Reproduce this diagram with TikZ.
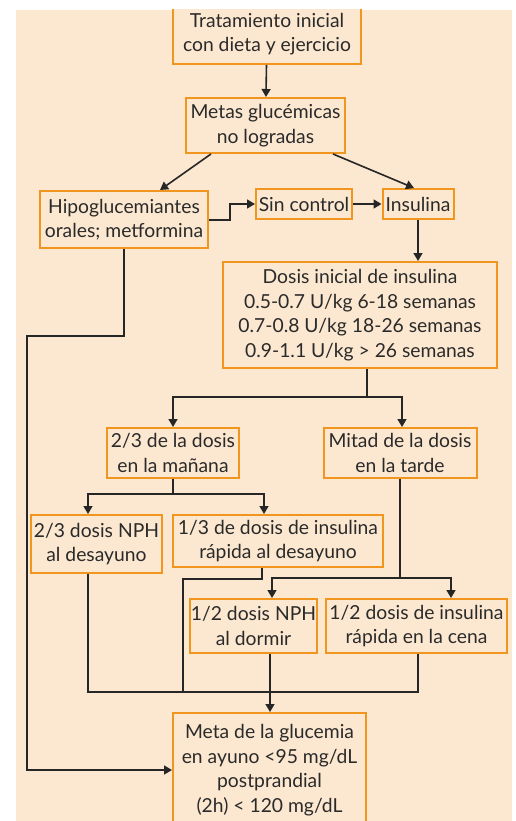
\documentclass[tikz,border=0pt]{standalone}
\usepackage{fontspec}
\setmainfont{Lato}
\usepackage{tikz}
\usetikzlibrary{arrows.meta}

\definecolor{fondo}{HTML}{FCE8D0}
\definecolor{naranja}{HTML}{F0961E}
\definecolor{texto}{HTML}{2A2A2A}

\tikzset{
  caja/.style={draw=naranja, line width=2pt, fill=fondo, align=center, inner sep=0pt,
    text=texto, font=\fontsize{19.3}{24.5}\selectfont},
  linea/.style={line width=1.6pt, draw=black!85},
  flecha/.style={linea, -{Triangle[length=8pt,width=9pt]}}
}

\begin{document}
\begin{tikzpicture}[x=1pt,y=-1pt]
        \useasboundingbox (0,0) rectangle (515,821);
        \clip (16,10) rectangle (512,821);
        \fill[fondo] (16,10) rectangle (512,821);
        % cajas
        \node[caja, minimum width=188pt, minimum height=60pt] (trat) at (267,34) {Tratamiento inicial\\con dieta y ejercicio};
        \node[caja, minimum width=159pt, minimum height=55pt] (metas) at (265.5,125.5) {Metas glucémicas\\no logradas};
        \node[caja, minimum width=168pt, minimum height=57pt] (hipo) at (124,219.5) {Hipoglucemiantes\\orales; metformina};
        \node[caja, minimum width=96pt, minimum height=30pt] (sin) at (304,204) {Sin control};
        \node[caja, minimum width=71pt, minimum height=30pt] (insul) at (418,204) {Insulina};
        \node[caja, minimum width=274pt, minimum height=106pt] (dosis) at (360,315) {Dosis inicial de insulina\\0.5-0.7 U/kg 6-18 semanas\\0.7-0.8 U/kg 18-26 semanas\\0.9-1.1 U/kg > 26 semanas};
        \node[caja, minimum width=132pt, minimum height=50pt] (manana) at (173,453) {2/3 de la dosis\\en la mañana};
        \node[caja, minimum width=153pt, minimum height=50pt] (tarde) at (400,453) {Mitad de la dosis\\en la tarde};
        \node[caja, minimum width=131pt, minimum height=58pt] (nphdes) at (96.5,544) {2/3 dosis NPH\\al desayuno};
        \node[caja, minimum width=210pt, minimum height=52pt] (rapdes) at (278,541) {1/3 de dosis de insulina\\rápida al desayuno};
        \node[caja, minimum width=127pt, minimum height=54pt] (nphdor) at (253.5,626) {1/2 dosis NPH\\al dormir};
        \node[caja, minimum width=181pt, minimum height=54pt] (rapcena) at (416.5,626) {1/2 dosis de insulina\\rápida en la cena};
        \node[caja, minimum width=193pt, minimum height=114pt] (meta) at (269.5,770) {Meta de la glucemia\\en ayuno <95 mg/dL\\postprandial\\(2h) < 120 mg/dL};
        % puntos de union
        \coordinate (izq) at (27,336);
        \coordinate (r1) at (367,397);
        \coordinate (r2) at (173,494);
        \coordinate (r3) at (400,578);
        \coordinate (col) at (270,692);
        % conectores
        \draw[flecha] (trat) -- (metas);
        \draw[flecha] ([xshift=-54.5pt]metas.south) -- ([xshift=36pt]hipo.north);
        \draw[flecha] ([xshift=67.5pt]metas.south) -- ([xshift=-4pt]insul.north);
        \draw[flecha] ([yshift=-0.5pt]hipo.east) -- ++(21,0) |- (sin.west);
        \draw[flecha] (sin) -- (insul);
        \draw[flecha] (insul) -- (dosis.north -| insul);
        \draw[flecha] (hipo.south) |- (izq) |- (meta.west);
        \draw[linea] (dosis.south -| r1) -- (r1);
        \draw[flecha] (r1) -| (manana);
        \draw[flecha] (r1) -| ([xshift=2pt]tarde.north);
        \draw[linea] (manana) -- (r2);
        \draw[flecha] (r2) -| ([xshift=-8.5pt]nphdes.north);
        \draw[flecha] (r2) -| ([xshift=-14pt]rapdes.north);
        \draw[linea] (tarde) -- (r3);
        \draw[flecha] (r3) -| ([xshift=18.5pt]nphdor.north);
        \draw[flecha] (r3) -| ([xshift=34.5pt]rapcena.north);
        \draw[linea] ([xshift=-8.5pt]nphdes.south) |- (col) -| ([xshift=1.5pt]rapcena.south);
        \draw[linea] ([xshift=-16pt]rapdes.south) -- ++(0,11) -| (183,692);
        \draw[flecha] ([xshift=16.5pt]nphdor.south) -- ([xshift=0.5pt]meta.north);
    \end{tikzpicture}
\end{document}
